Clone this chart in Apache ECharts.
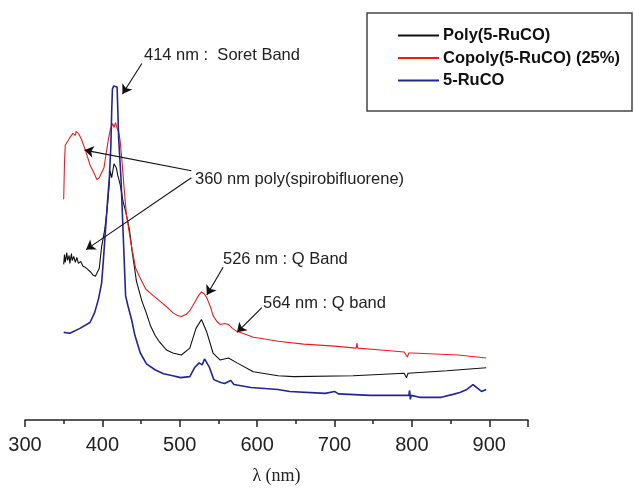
<!DOCTYPE html>
<html>
<head>
<meta charset="utf-8">
<script src="https://cdn.jsdelivr.net/npm/echarts@6/dist/echarts.min.js"></script>
<style>
  html, body { margin: 0; padding: 0; background: #fff; }
  #chart { width: 634px; height: 490px; }
</style>
</head>
<body>
<div id="chart"></div>
<script>
// wavelength (nm) and absorbance (a.u., offset traces)
const polyWl = [350, 351, 352, 354, 355, 357, 358, 360, 361, 363, 365, 367, 369, 372, 375, 378, 381, 385, 388, 391, 393, 396, 399, 403, 406, 408, 410, 412, 415, 418, 420, 423, 427, 430, 435, 439, 444, 451, 457, 462, 468, 474, 483, 491, 502, 513, 521, 528, 535, 543, 552, 563, 574, 595, 627, 647, 724, 790, 793, 795, 845, 896]
const polyAbs = [1.58, 1.68, 1.60, 1.70, 1.62, 1.67, 1.59, 1.69, 1.62, 1.66, 1.60, 1.65, 1.59, 1.61, 1.56, 1.55, 1.53, 1.50, 1.47, 1.46, 1.48, 1.54, 1.76, 1.93, 2.13, 2.31, 2.53, 2.46, 2.60, 2.56, 2.48, 2.39, 2.21, 2.12, 1.93, 1.68, 1.41, 1.21, 1.08, 0.96, 0.86, 0.79, 0.71, 0.68, 0.66, 0.73, 0.93, 1.02, 0.89, 0.68, 0.61, 0.63, 0.58, 0.49, 0.45, 0.44, 0.45, 0.475, 0.43, 0.475, 0.50, 0.53]

const copolyWl = [350, 351, 352, 356, 359, 362, 365, 366, 369, 373, 378, 384, 389, 393, 396, 399, 402, 404, 406, 408, 410, 413, 415, 417, 419, 421, 423, 425, 428, 431, 437, 443, 449, 456, 466, 474, 483, 491, 497, 502, 508, 513, 519, 524, 528, 532, 535, 540, 543, 548, 552, 558, 563, 568, 574, 585, 595, 604, 627, 660, 700, 728, 729, 730, 760, 790, 792, 794, 796, 798, 800, 830, 860, 896]
const copolyAbs = [2.24, 2.60, 2.79, 2.84, 2.88, 2.91, 2.89, 2.93, 2.91, 2.85, 2.74, 2.59, 2.51, 2.44, 2.46, 2.51, 2.56, 2.66, 2.76, 2.86, 2.94, 3.01, 2.97, 3.02, 2.96, 2.93, 2.83, 2.66, 2.36, 2.09, 1.79, 1.54, 1.44, 1.33, 1.26, 1.21, 1.15, 1.09, 1.06, 1.05, 1.07, 1.11, 1.19, 1.26, 1.30, 1.28, 1.24, 1.14, 1.06, 1.00, 0.97, 0.98, 0.97, 0.93, 0.90, 0.87, 0.84, 0.83, 0.80, 0.77, 0.75, 0.73, 0.78, 0.73, 0.71, 0.69, 0.68, 0.64, 0.68, 0.66, 0.68, 0.67, 0.66, 0.63]

const rucoWl = [350, 358, 371, 384, 390, 395, 399, 401, 404, 407, 409, 411, 412, 413, 414.5, 417, 419, 420, 421, 424, 426, 428, 430, 433, 438, 442, 449, 457, 468, 479, 491, 501, 513, 519, 525, 529, 532, 538, 544, 553, 558, 563, 566, 570, 592, 627, 642, 688, 700, 705, 746, 796, 797, 798, 799, 810, 838, 853, 862, 871, 879, 885, 890, 896]
const rucoAbs = [0.89, 0.88, 0.93, 0.99, 1.09, 1.23, 1.39, 1.59, 1.93, 2.26, 2.46, 2.79, 3.13, 3.36, 3.39, 3.39, 3.38, 3.13, 2.86, 2.46, 2.06, 1.66, 1.26, 1.16, 1.01, 0.86, 0.68, 0.57, 0.51, 0.47, 0.45, 0.43, 0.44, 0.53, 0.58, 0.56, 0.62, 0.54, 0.41, 0.38, 0.37, 0.39, 0.40, 0.36, 0.33, 0.31, 0.29, 0.27, 0.29, 0.265, 0.25, 0.25, 0.30, 0.21, 0.25, 0.23, 0.23, 0.26, 0.28, 0.31, 0.36, 0.32, 0.29, 0.31]

const seriesNames = ['Poly(5-RuCO)', 'Copoly(5-RuCO) (25%)', '5-RuCO']
const seriesColors = ['#111111', '#f01a1a', '#23239a']

// annotation arrows, in data coords [from, to]
const arrows = [
  [[451, 3.62], [426, 3.31]],
  [[515, 2.53], [377, 2.74]],
  [[515, 2.46], [379, 1.73]],
  [[556, 1.55], [535, 1.27]],
  [[606, 1.14], [574, 0.89]]
]
const notes = [
  { text: '414 nm :  Soret Band', x: 144, y: 55 },
  { text: '360 nm poly(spirobifluorene)', x: 195, y: 179 },
  { text: '526 nm : Q Band', x: 223, y: 259 },
  { text: '564 nm : Q band', x: 263, y: 303 }
]

const pairs = (w, a) => w.map((x, i) => [x, a[i]])

let chart = echarts.init(document.getElementById('chart'))

const option = {
  animation: false,
  grid: { left: 25, right: 106, top: 26, bottom: 64 },
  legend: {
    orient: 'vertical',
    left: 392,
    top: 22,
    itemWidth: 41,
    itemHeight: 14,
    itemGap: 5.5,
    data: seriesNames,
    itemStyle: { opacity: 0 },
    textStyle: { fontFamily: 'Liberation Sans', fontSize: 16.5, fontWeight: 'bold', color: '#111', padding: [0, 0, 0, -1] }
  },
  xAxis: {
    type: 'value',
    min: 300,
    max: 950,
    interval: 100,
    name: 'λ (nm)',
    nameLocation: 'middle',
    nameGap: 47,
    nameTextStyle: { fontFamily: 'Liberation Serif', fontSize: 18, color: '#222' },
    axisLine: { lineStyle: { color: '#222', width: 1.5 } },
    axisTick: { length: 7, lineStyle: { color: '#222', width: 1.5 } },
    minorTick: { show: true, splitNumber: 2, length: 4, lineStyle: { color: '#222', width: 1.5 } },
    axisLabel: { margin: 15, fontFamily: 'Liberation Sans', fontSize: 20, color: '#222', showMaxLabel: false },
    splitLine: { show: false }
  },
  yAxis: {
    type: 'value',
    min: 0,
    max: 4,
    show: false
  },
  series: [
    {
      name: seriesNames[0],
      type: 'line',
      symbol: 'none',
      data: pairs(polyWl, polyAbs),
      lineStyle: { color: seriesColors[0], width: 1.1 },
      itemStyle: { color: seriesColors[0] },
      markLine: {
        silent: true,
        symbol: ['none', 'arrow'],
        symbolSize: 9,
        label: { show: false },
        lineStyle: { color: '#111', width: 1.1, type: 'solid' },
        data: arrows.map(a => [{ coord: a[0] }, { coord: a[1] }])
      }
    },
    {
      name: seriesNames[1],
      type: 'line',
      symbol: 'none',
      data: pairs(copolyWl, copolyAbs),
      lineStyle: { color: seriesColors[1], width: 1.1 },
      itemStyle: { color: seriesColors[1] }
    },
    {
      name: seriesNames[2],
      type: 'line',
      symbol: 'none',
      data: pairs(rucoWl, rucoAbs),
      lineStyle: { color: seriesColors[2], width: 1.6 },
      itemStyle: { color: seriesColors[2] }
    }
  ],
  graphic: [
    {
      type: 'rect',
      shape: { x: 367, y: 13, width: 265, height: 98 },
      style: { fill: 'none', stroke: '#444', lineWidth: 1.5 },
      z: 10
    }
  ].concat(notes.map(n => ({
    type: 'text',
    x: n.x,
    y: n.y,
    style: { text: n.text, fontFamily: 'Liberation Sans', fontSize: 16.5, fill: '#222', verticalAlign: 'middle' },
    z: 10
  })))
}

chart.setOption(option)
</script>
</body>
</html>
